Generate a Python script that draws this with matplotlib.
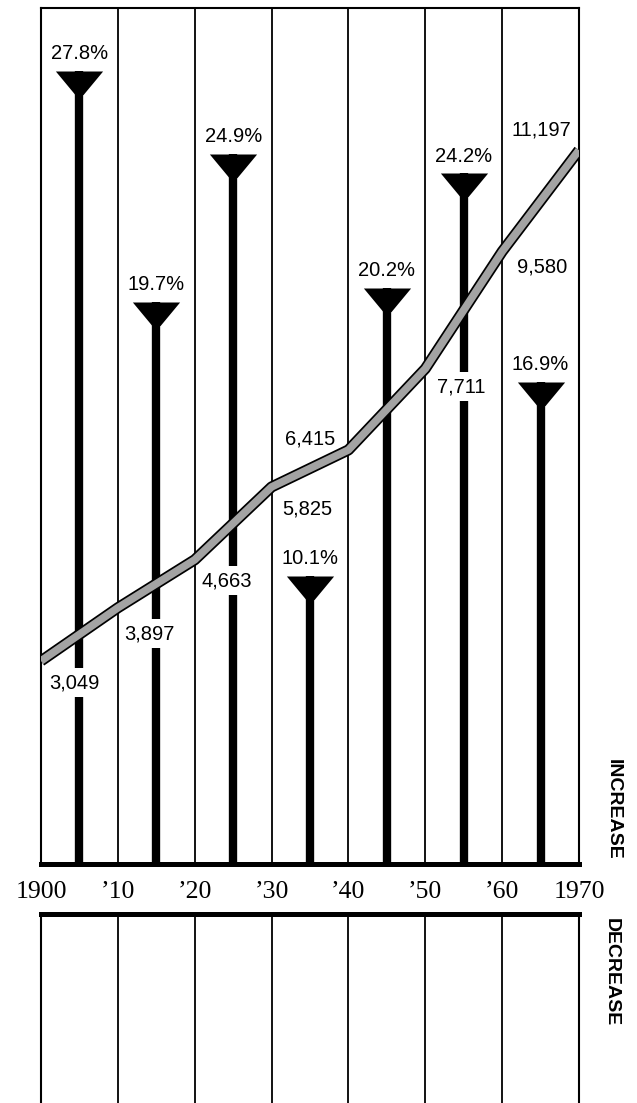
import numpy as np
import matplotlib.pyplot as plt
from matplotlib.path import Path

plt.rcParams['font.family'] = 'Liberation Sans'
plt.rcParams['font.size'] = 14

# census population (thousands) and decade growth
census_years = [1900, 1910, 1920, 1930, 1940, 1950, 1960, 1970]
population = [3049, 3897, 4663, 5825, 6415, 7711, 9580, 11197]
mid_years = [1905, 1915, 1925, 1935, 1945, 1955, 1965]
growth_pct = [27.8, 19.7, 24.9, 10.1, 20.2, 24.2, 16.9]
tick_labels = ['1900', '\u201910', '\u201920', '\u201930', '\u201940',
               '\u201950', '\u201960', '1970']

# where each population label sits relative to its point (pixels)
label_offsets = [(33, -22), (32, -26), (32, -21), (36, -22),
                 (-38, 11), (36, -18), (40, -15), (-38, 20)]

W, H = 637, 1103
fig = plt.figure(figsize=(W / 100, H / 100), dpi=100)

left, right = 41, 579
top_up, bot_up = 8, 864
top_lo = 914

ax = fig.add_axes([left / W, 1 - bot_up / H, (right - left) / W, (bot_up - top_up) / H])
axl = fig.add_axes([left / W, 0, (right - left) / W, (H - top_lo) / H])

for a in (ax, axl):
    a.set_xlim(1900, 1970)
    for yr in census_years[1:-1]:
        a.axvline(yr, color='black', lw=1.3, zorder=1)
    a.spines['left'].set_linewidth(1.5)
    a.spines['right'].set_linewidth(1.5)
    a.set_yticks([])

ax.set_ylim(0, 30)
ax.spines['top'].set_linewidth(1.5)
ax.spines['bottom'].set_linewidth(3.6)
ax.set_xticks(census_years, tick_labels, family='Liberation Serif', fontsize=18.5)
ax.tick_params(axis='x', length=0, pad=12)

axl.set_ylim(0, 1)
axl.set_xticks([])
axl.spines['top'].set_linewidth(3.6)
axl.spines['bottom'].set_visible(False)

# funnel heads: top edge at the value
funnel = Path([(-1, 0), (1, 0), (0.17, -1.0), (-0.17, -1.0), (-1, 0)],
              [Path.MOVETO, Path.LINETO, Path.LINETO, Path.LINETO, Path.CLOSEPOLY])
ax.vlines(mid_years, 0, growth_pct, color='black', lw=6, zorder=3)
ax.plot(mid_years, growth_pct, ls='none', marker=funnel, ms=34, mew=0,
        color='black', zorder=4)
for yr, p in zip(mid_years, growth_pct):
    ax.annotate(f'{p}%', (yr, p), xytext=(0, 17), textcoords='offset pixels',
                ha='center', va='center', fontsize=14.5)

# population band
ax2 = ax.twinx()
ax2.set_ylim(-190, 13465)
ax2.set_axis_off()
ax2.plot(census_years, population, color='black', lw=8, solid_capstyle='butt',
         solid_joinstyle='round', zorder=5)
ax2.plot(census_years, population, color='#a3a3a3', lw=5.5, solid_capstyle='butt',
         solid_joinstyle='round', zorder=6)
for yr, v, (dx, dy) in zip(census_years, population, label_offsets):
    ax2.annotate(f'{v:,}', (yr, v), xytext=(dx, dy), textcoords='offset pixels',
                 ha='center', va='center', fontsize=14.5, zorder=4,
                 bbox=dict(boxstyle='square,pad=0.25', fc='white', ec='none'))

fig.text(613 / W, 1 - 809 / H, 'INCREASE', rotation=270, ha='center', va='center',
         fontsize=14, fontweight='bold')
fig.text(611 / W, 1 - 972 / H, 'DECREASE', rotation=270, ha='center', va='center',
         fontsize=14, fontweight='bold')

fig.savefig('out.png', dpi=100)
